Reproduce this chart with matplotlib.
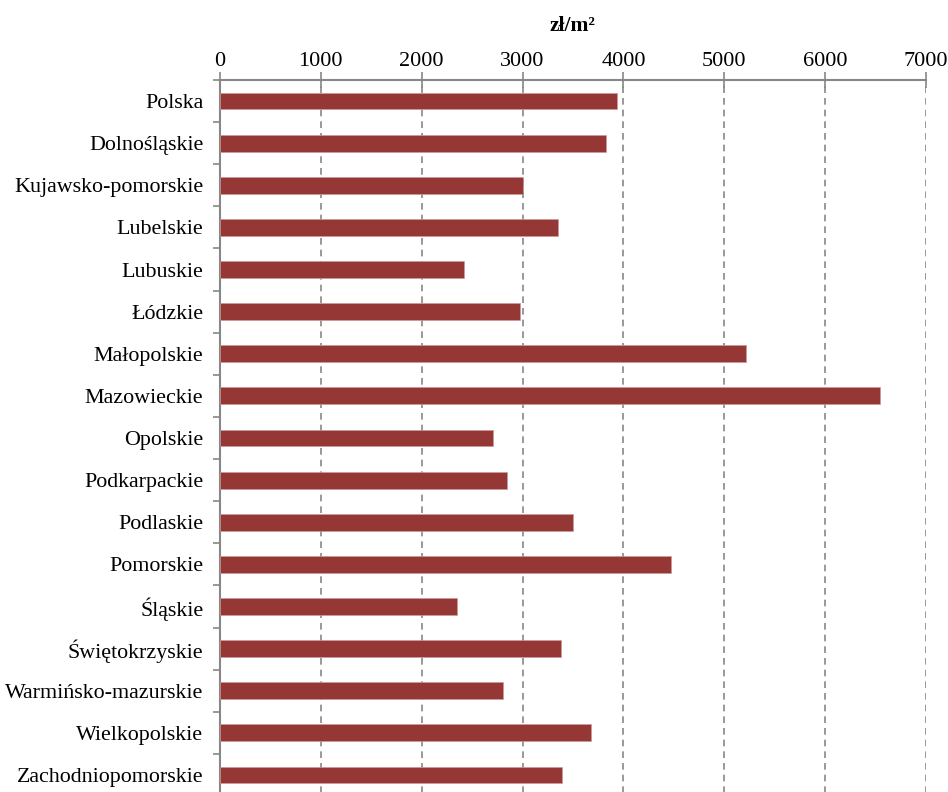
import matplotlib
matplotlib.use("Agg")
import matplotlib.pyplot as plt
import numpy as np

# average price per m2 by voivodeship
regions = [
    "Polska", "Dolnośląskie", "Kujawsko-pomorskie", "Lubelskie", "Lubuskie",
    "Łódzkie", "Małopolskie", "Mazowieckie", "Opolskie", "Podkarpackie",
    "Podlaskie", "Pomorskie", "Śląskie", "Świętokrzyskie",
    "Warmińsko-mazurskie", "Wielkopolskie", "Zachodniopomorskie",
]
price = [3940, 3831, 3007, 3351, 2417, 2970, 5220, 6547, 2704, 2850,
         3502, 4474, 2349, 3377, 2810, 3681, 3390]
xticks = [0, 1000, 2000, 3000, 4000, 5000, 6000, 7000]

plt.rcParams["font.family"] = ["Liberation Serif", "DejaVu Serif"]
GRAY = "#878787"
BAR = "#953735"

fig = plt.figure(figsize=(9.48, 7.92), dpi=100)
ax = fig.add_axes([220 / 948, -4 / 792, 706 / 948, 716 / 792])

y = np.arange(len(regions))
ax.barh(y, price, height=0.4, color=BAR, edgecolor="#c99a99", linewidth=0.5,
        zorder=3)

ax.set_xlim(0, 7000)
ax.set_ylim(len(regions) - 0.5, -0.5)
ax.set_xticks(xticks)
ax.set_xticklabels([str(t) for t in xticks], fontsize=16)
ax.xaxis.tick_top()
ax.xaxis.set_label_position("top")
ax.set_xlabel("zł/m²", fontsize=15.5, fontweight="bold", labelpad=15)
ax.tick_params(axis="x", direction="inout", length=11, width=1.2,
               color=GRAY, pad=1)

ax.set_yticks(y)
ax.set_yticklabels(regions, fontsize=15.8)
ax.set_yticks(np.arange(-0.5, len(regions)), minor=True)
ax.tick_params(axis="y", which="major", length=0, pad=12)
ax.tick_params(axis="y", which="minor", length=5, width=1.2, color=GRAY)

ax.grid(axis="x", linestyle=(0, (4, 3)), color=GRAY, linewidth=1.2, zorder=0)
for s in ["right", "bottom"]:
    ax.spines[s].set_visible(False)
for s in ["top", "left"]:
    ax.spines[s].set_color(GRAY)
    ax.spines[s].set_linewidth(1.5)

fig.savefig("out.png", dpi=100)
